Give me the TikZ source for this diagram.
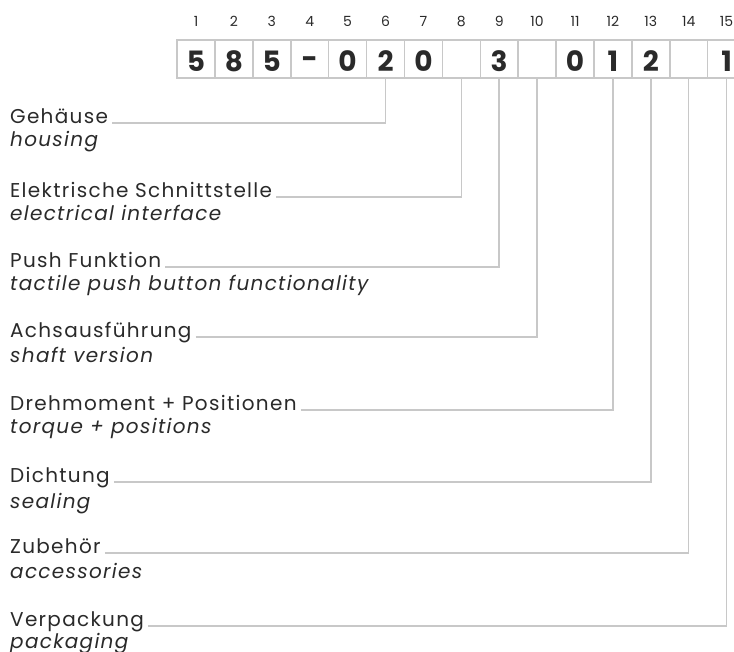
\documentclass[tikz,border=0pt]{standalone}
\usepackage{fontspec}
\setmainfont{Poppins}[LetterSpace=6.5]
\newfontfamily\digitfont{Poppins}[UprightFont=* Bold]
\newfontfamily\numfont{Poppins}
\definecolor{grid}{HTML}{C8C8C8}
\definecolor{ink}{HTML}{2A2A2A}
\tikzset{
  cellbox/.style={draw=grid, line width=1.5pt, minimum width=37.9pt, minimum height=38pt, inner sep=0pt, anchor=center},
  digit/.style={font=\digitfont\fontsize{28}{30}\selectfont, text=ink, fill=white, inner xsep=0.5pt, inner ysep=2pt},
  posnum/.style={font=\numfont\fontsize{14}{16}\selectfont, text=ink},
  delabel/.style={anchor=base west, font=\fontsize{20}{22}\selectfont, text=ink, inner sep=0pt},
  enlabel/.style={anchor=base west, font=\fontsize{20}{22}\selectfont\itshape, text=ink, inner sep=0pt},
  leader/.style={draw=grid, line width=1.5pt}
}
\begin{document}
\begin{tikzpicture}[x=1pt,y=-1pt]
\useasboundingbox (0,0) rectangle (734,651);
\clip (0,0) rectangle (734,651);
% cells
\foreach \i in {1,...,15}{
  \node[cellbox] (c\i) at ({196+37.9*(\i-1)},59) {};
  \node[posnum] (n\i) at ({196+37.9*(\i-1)},21) {\i};
}
\foreach \i/\d in {1/5,2/8,3/5,5/0,6/2,7/0,9/3,11/0,12/1,13/2,15/1}{
  \node[digit] (d\i) at ({196+37.9*(\i-1)},61) {\d};
}
\node[digit] (d4) at ({196+37.9*3},63) {-};
% labels
\node[delabel] (g1) at (10,123) {Gehäuse};
\node[enlabel] (e1) at (10,146) {housing};
\node[delabel] (g2) at (10,197) {Elektrische Schnittstelle};
\node[enlabel] (e2) at (10,220) {electrical interface};
\node[delabel] (g3) at (10,267) {Push Funktion};
\node[enlabel] (e3) at (10,290) {tactile push button functionality};
\node[delabel] (g4) at (10,337) {Achsausführung};
\node[enlabel] (e4) at (10,362) {shaft version};
\node[delabel] (g5) at (10,410) {Drehmoment + Positionen};
\node[enlabel] (e5) at (10,433) {torque + positions};
\node[delabel] (g6) at (10,482) {Dichtung};
\node[enlabel] (e6) at (10,508) {sealing};
\node[delabel] (g7) at (10,553) {Zubehör};
\node[enlabel] (e7) at (10,578) {accessories};
\node[delabel] (g8) at (10,626) {Verpackung};
\node[enlabel] (e8) at (10,648) {packaging};
% leaders
\draw[leader] ([xshift=4pt]g1.base east) -| (c6.south);
\draw[leader] ([xshift=4pt]g2.base east) -| (c8.south);
\draw[leader] ([xshift=4pt]g3.base east) -| (c9.south);
\draw[leader] ([xshift=4pt]g4.base east) -| (c10.south);
\draw[leader] ([xshift=4pt]g5.base east) -| (c12.south);
\draw[leader] ([xshift=4pt]g6.base east) -| (c13.south);
\draw[leader] ([xshift=4pt]g7.base east) -| (c14.south);
\draw[leader] ([xshift=4pt]g8.base east) -| (c15.south);
\end{tikzpicture}
\end{document}
